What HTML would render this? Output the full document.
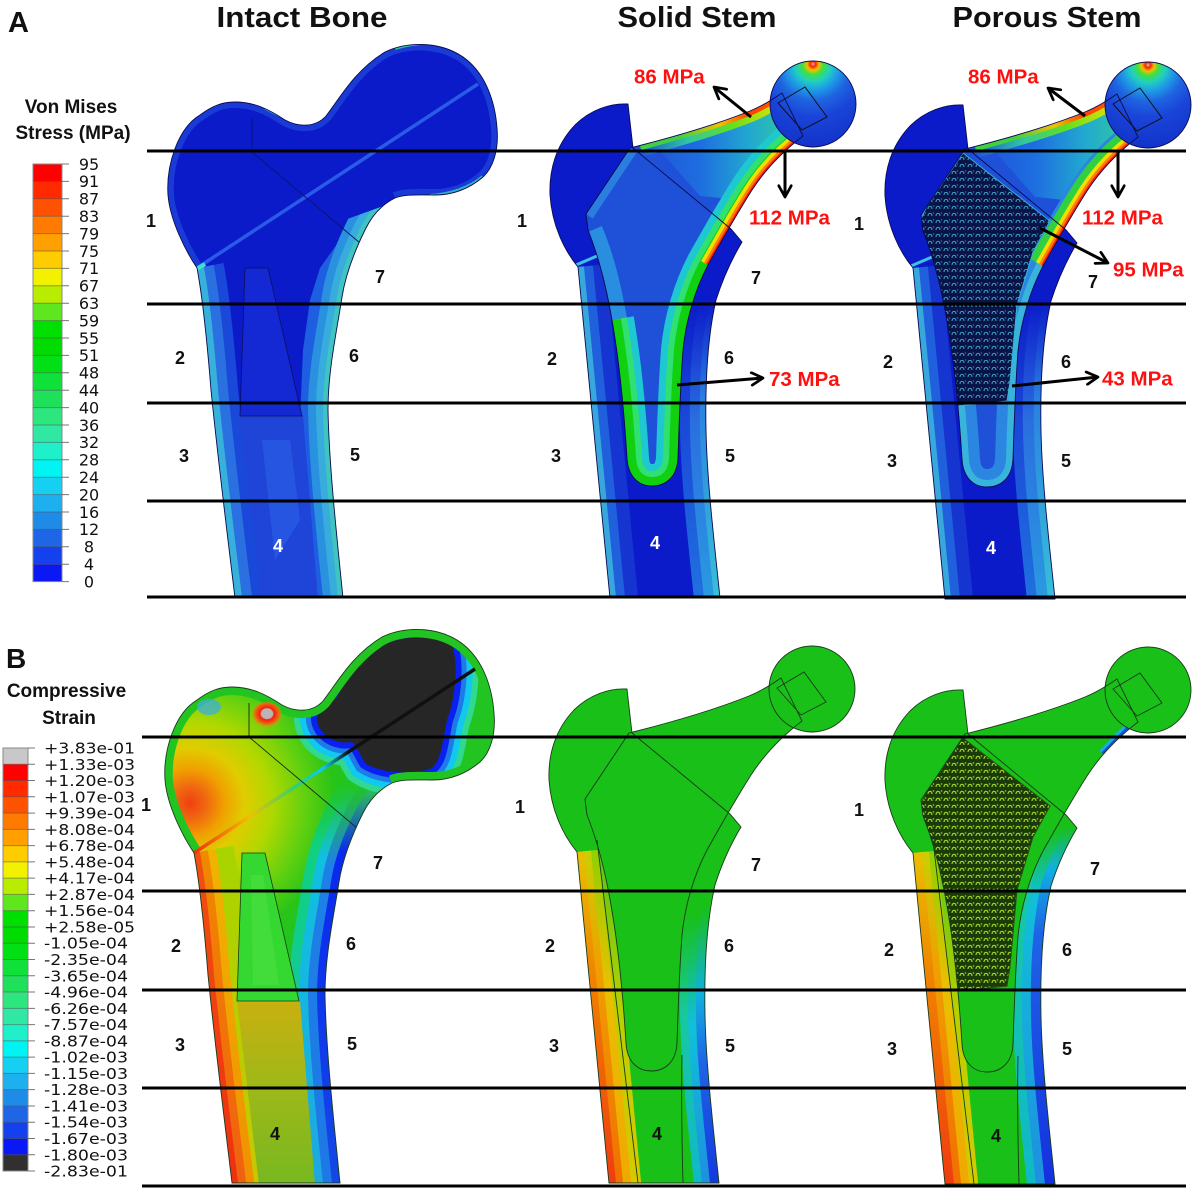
<!DOCTYPE html>
<html><head><meta charset="utf-8">
<style>
html,body{margin:0;padding:0;background:#fff;width:1200px;height:1193px;overflow:hidden}
svg{display:block}
.t{font-family:"Liberation Sans",sans-serif;font-weight:bold;fill:#111}
.n{font-family:"Liberation Sans",sans-serif;font-weight:bold;font-size:18px;text-anchor:middle;fill:#111}
.w{fill:#fff}
.r{font-family:"Liberation Sans",sans-serif;font-weight:bold;font-size:20.5px;fill:#ff1010}
.la{font-family:"DejaVu Sans",sans-serif;font-size:16px;fill:#111;text-anchor:middle}
.lb{font-family:"DejaVu Sans",sans-serif;font-size:15px;fill:#111}
</style></head><body>
<svg width="1200" height="1193" viewBox="0 0 1200 1193">
<defs>
<path id="iO" d="M197,268 C185,250 170,220 168,195 C166,165 178,128 200,115 C212,106 222,102 235,102 C255,102 270,110 285,120 C298,127 315,128 326,116 C340,98 355,70 385,52 C410,40 445,42 467,60 C485,75 495,100 497,128 C499,150 493,168 483,177 C470,188 455,195 435,195 C418,195 405,194 395,198 C383,204 373,214 366,228 C356,248 346,272 342,297 C337,330 328,370 328,410 C329,460 335,520 343,598 L235,598 C228,540 218,460 211,390 C207,340 203,300 197,268 Z"/>
<path id="iTop" d="M197,268 C185,250 170,220 168,195 C166,165 178,128 200,115 C212,106 222,102 235,102 C255,102 270,110 285,120 C298,127 315,128 326,116 C340,98 355,70 385,52 C410,40 445,42 467,60 C485,75 495,100 497,128 C499,150 493,168 483,177 C470,188 455,195 435,195 C418,195 405,194 395,198"/>
<path id="iL" d="M197,268 C203,300 207,340 211,390 C218,460 228,540 235,598 L237,620"/>
<path id="iR" d="M395,198 C383,204 373,214 366,228 C356,248 346,272 342,297 C337,330 328,370 328,410 C329,460 335,520 343,598 L345,620"/>
<path id="blob" d="M340,112 C352,88 372,62 400,55 C425,49 445,52 455,60 C462,80 458,115 450,135 C445,160 444,178 433,184 C413,190 383,188 368,178 C363,170 361,163 355,157 C338,160 322,150 320,135 C319,125 330,118 340,112 Z"/>
<path id="sB" d="M628,104 C610,103 590,110 575,125 C556,145 549,170 550,195 C552,225 564,250 578,267 C586,340 597,470 610,598 L720,598 C714,540 707,480 706,430 C705,380 708,335 716,300 C724,275 733,257 742,242 L731,229 L633,148 Z"/>
<path id="sS" d="M630,148 C670,138 715,125 750,111 C762,106 772,100 782,93 L803,136 C782,152 765,170 752,190 C738,212 722,240 708,265 C695,290 686,320 683,350 C680,390 679,430 678,458 C677,478 665,486 652,486 C638,486 628,476 627,458 C624,410 619,360 612,320 C606,285 598,255 588,230 L586,214 Z"/>
<path id="sL" d="M578,267 C586,340 597,470 610,598 L612,620"/>
<path id="sR" d="M742,242 C733,257 724,275 716,300 C708,335 705,380 706,430 C707,480 714,540 720,598 L722,620"/>
<path id="stE" d="M612,320 C619,360 624,410 627,458 C628,476 638,486 652,486 C665,486 677,478 678,458 C679,430 680,390 683,350 C686,320 695,290 708,265 C722,240 738,212 752,190 C765,170 782,152 803,136"/>
<path id="nkB" d="M708,265 C722,240 738,212 752,190 C765,170 782,152 803,136"/>
<path id="nkT" d="M640,146 C675,136 715,125 750,111 C762,106 772,100 784,92"/>
<path id="lat" d="M628,152 L715,220 L698,251 L682,304 L675,381 L672,400 L622,405 L605,304 L585,220 L592,205 Z"/>
<path id="trn" d="M778,103 L805,87 L827,117 L802,130 Z"/>
<clipPath id="ciO"><use href="#iO"/></clipPath>
<clipPath id="cNk"><path d="M280,620 L280,245 L350,218 L395,202 L440,199 L485,180 L520,180 L520,620 Z"/></clipPath>
<clipPath id="csB"><use href="#sB"/></clipPath>
<clipPath id="csS"><use href="#sS"/></clipPath>
<marker id="ah" viewBox="0 0 12 12" refX="10.5" refY="6" markerWidth="15" markerHeight="15" markerUnits="userSpaceOnUse" orient="auto"><path d="M1.5,1 L10.5,6 L1.5,11" fill="none" stroke="#000" stroke-width="2.2" stroke-linecap="round" stroke-linejoin="round"/></marker>
<pattern id="latA" width="8" height="7" patternUnits="userSpaceOnUse"><rect width="8" height="7" fill="#0a1446"/><path d="M1,5 C1,1.5 5,1.5 5,5" fill="none" stroke="#36a8cc" stroke-width="1.1"/><circle cx="6.5" cy="2" r="0.8" fill="#2a6ad0"/></pattern>
<pattern id="latB" width="8" height="7" patternUnits="userSpaceOnUse"><rect width="8" height="7" fill="#1a3a0a"/><path d="M1,5 C1,1.5 5,1.5 5,5" fill="none" stroke="#a6d820" stroke-width="1.2"/><circle cx="6.5" cy="2" r="0.9" fill="#70c020"/></pattern>
<linearGradient id="gNeck" gradientUnits="userSpaceOnUse" x1="640" y1="0" x2="790" y2="0"><stop offset="0" stop-color="#1e50d8"/><stop offset=".4" stop-color="#1e6ee0"/><stop offset=".73" stop-color="#22a8d0"/><stop offset="1" stop-color="#30c8a0"/></linearGradient>
<linearGradient id="gNT1" gradientUnits="userSpaceOnUse" x1="640" y1="0" x2="780" y2="0"><stop offset="0" stop-color="#1e50d8"/><stop offset=".35" stop-color="#30c8a0"/><stop offset=".65" stop-color="#60e020"/><stop offset="1" stop-color="#e8e000"/></linearGradient>
<linearGradient id="gNT2" gradientUnits="userSpaceOnUse" x1="680" y1="0" x2="780" y2="0"><stop offset="0" stop-color="#40d040"/><stop offset=".4" stop-color="#f0c000"/><stop offset=".7" stop-color="#ff4000"/><stop offset="1" stop-color="#ff6000"/></linearGradient>
<radialGradient id="hdA" gradientUnits="userSpaceOnUse" cx="813" cy="64" r="88"><stop offset="0" stop-color="#c8c8c8"/><stop offset=".03" stop-color="#ff2000"/><stop offset=".07" stop-color="#f0c000"/><stop offset=".12" stop-color="#40e040"/><stop offset=".2" stop-color="#20d0c0"/><stop offset=".3" stop-color="#1e9ae6"/><stop offset=".42" stop-color="#1e64e0"/><stop offset=".6" stop-color="#1a44d8"/><stop offset="1" stop-color="#1030c8"/></radialGradient>
<linearGradient id="gRA1" gradientUnits="userSpaceOnUse" x1="0" y1="300" x2="0" y2="598"><stop offset="0" stop-color="#0b1bc9"/><stop offset=".4" stop-color="#1a48d8"/><stop offset="1" stop-color="#2070e0"/></linearGradient>
<linearGradient id="gRA2" gradientUnits="userSpaceOnUse" x1="0" y1="300" x2="0" y2="598"><stop offset="0" stop-color="#0b1bc9"/><stop offset=".4" stop-color="#2a6ee0"/><stop offset="1" stop-color="#2a9ae0"/></linearGradient>
<linearGradient id="gRA3" gradientUnits="userSpaceOnUse" x1="0" y1="300" x2="0" y2="598"><stop offset="0" stop-color="#0b1bc9"/><stop offset=".33" stop-color="#2a80e0"/><stop offset="1" stop-color="#38c0d8"/></linearGradient>
<radialGradient id="rgT" gradientUnits="userSpaceOnUse" cx="193" cy="218" r="170"><stop offset="0" stop-color="#f04010"/><stop offset=".1" stop-color="#f06a10"/><stop offset=".2" stop-color="#f0a000"/><stop offset=".32" stop-color="#e0cc00"/><stop offset=".48" stop-color="#b0d800"/><stop offset=".68" stop-color="#60d010"/><stop offset=".85" stop-color="#28c418"/><stop offset="1" stop-color="#22c422"/></radialGradient>
<linearGradient id="gCan" gradientUnits="userSpaceOnUse" x1="0" y1="416" x2="0" y2="598"><stop offset="0" stop-color="#c8b010"/><stop offset=".45" stop-color="#a0b818"/><stop offset="1" stop-color="#78b820"/></linearGradient>
<linearGradient id="gIL1" gradientUnits="userSpaceOnUse" x1="0" y1="268" x2="0" y2="598"><stop offset="0" stop-color="#a8d400"/><stop offset="1" stop-color="#c8c800"/></linearGradient>
<linearGradient id="gIL2" gradientUnits="userSpaceOnUse" x1="0" y1="268" x2="0" y2="598"><stop offset="0" stop-color="#f0b400"/><stop offset="1" stop-color="#f09000"/></linearGradient>
<linearGradient id="gIL3" gradientUnits="userSpaceOnUse" x1="0" y1="268" x2="0" y2="598"><stop offset="0" stop-color="#f08800"/><stop offset="1" stop-color="#f06010"/></linearGradient>
<linearGradient id="gIL4" gradientUnits="userSpaceOnUse" x1="0" y1="268" x2="0" y2="598"><stop offset="0" stop-color="#f05010"/><stop offset="1" stop-color="#f03010"/></linearGradient>
<linearGradient id="gIR1" gradientUnits="userSpaceOnUse" x1="0" y1="200" x2="0" y2="598"><stop offset="0" stop-color="#22c422"/><stop offset=".15" stop-color="#10d080"/><stop offset="1" stop-color="#18c0b0"/></linearGradient>
<linearGradient id="gIR2" gradientUnits="userSpaceOnUse" x1="0" y1="200" x2="0" y2="598"><stop offset="0" stop-color="#22c422"/><stop offset=".18" stop-color="#10c0e0"/><stop offset="1" stop-color="#1ea8e0"/></linearGradient>
<linearGradient id="gIR3" gradientUnits="userSpaceOnUse" x1="0" y1="200" x2="0" y2="598"><stop offset="0" stop-color="#22c422"/><stop offset=".2" stop-color="#1e80e6"/><stop offset="1" stop-color="#1e78e6"/></linearGradient>
<linearGradient id="gIR4" gradientUnits="userSpaceOnUse" x1="0" y1="200" x2="0" y2="598"><stop offset="0" stop-color="#30c850"/><stop offset=".17" stop-color="#0a28f0"/><stop offset="1" stop-color="#1448e6"/></linearGradient>
<linearGradient id="gDiag" gradientUnits="userSpaceOnUse" x1="197" y1="0" x2="478" y2="0"><stop offset="0" stop-color="#f03010"/><stop offset=".2" stop-color="#f0c000"/><stop offset=".36" stop-color="#30d070"/><stop offset=".46" stop-color="#10c8f0"/><stop offset=".55" stop-color="#101010"/><stop offset="1" stop-color="#101010"/></linearGradient>
<linearGradient id="gSL1" gradientUnits="userSpaceOnUse" x1="0" y1="267" x2="0" y2="598"><stop offset="0" stop-color="#58c818"/><stop offset=".49" stop-color="#b8d000"/><stop offset="1" stop-color="#d8c800"/></linearGradient>
<linearGradient id="gSL2" gradientUnits="userSpaceOnUse" x1="0" y1="267" x2="0" y2="598"><stop offset="0" stop-color="#90d000"/><stop offset=".4" stop-color="#e8c000"/><stop offset="1" stop-color="#f0a800"/></linearGradient>
<linearGradient id="gSL3" gradientUnits="userSpaceOnUse" x1="0" y1="267" x2="0" y2="598"><stop offset="0" stop-color="#c8d000"/><stop offset=".34" stop-color="#f0a000"/><stop offset="1" stop-color="#f07000"/></linearGradient>
<linearGradient id="gSL4" gradientUnits="userSpaceOnUse" x1="0" y1="267" x2="0" y2="598"><stop offset="0" stop-color="#e8c000"/><stop offset=".4" stop-color="#f08000"/><stop offset="1" stop-color="#f03c10"/></linearGradient>
<linearGradient id="gSR1" gradientUnits="userSpaceOnUse" x1="0" y1="300" x2="0" y2="598"><stop offset="0" stop-color="#18c018"/><stop offset=".1" stop-color="#18c018"/><stop offset=".44" stop-color="#18c8a0"/><stop offset="1" stop-color="#10b8c8"/></linearGradient>
<linearGradient id="gSR2" gradientUnits="userSpaceOnUse" x1="0" y1="300" x2="0" y2="598"><stop offset="0" stop-color="#18c018"/><stop offset=".1" stop-color="#18c018"/><stop offset=".47" stop-color="#10c0d8"/><stop offset="1" stop-color="#1e90e0"/></linearGradient>
<linearGradient id="gSR3" gradientUnits="userSpaceOnUse" x1="0" y1="300" x2="0" y2="598"><stop offset="0" stop-color="#18c018"/><stop offset=".07" stop-color="#18c018"/><stop offset=".37" stop-color="#10b0e0"/><stop offset=".6" stop-color="#1e64e6"/><stop offset="1" stop-color="#1438e0"/></linearGradient>
<linearGradient id="gPR1" gradientUnits="userSpaceOnUse" x1="0" y1="240" x2="0" y2="598"><stop offset="0" stop-color="#18c018"/><stop offset=".15" stop-color="#18c8a0"/><stop offset="1" stop-color="#10b8c8"/></linearGradient>
<linearGradient id="gPR2" gradientUnits="userSpaceOnUse" x1="0" y1="240" x2="0" y2="598"><stop offset="0" stop-color="#18c018"/><stop offset=".2" stop-color="#10c0d8"/><stop offset="1" stop-color="#1e90e0"/></linearGradient>
<linearGradient id="gPR3" gradientUnits="userSpaceOnUse" x1="0" y1="240" x2="0" y2="598"><stop offset="0" stop-color="#18c018"/><stop offset=".12" stop-color="#10b0e0"/><stop offset=".3" stop-color="#1e64e6"/><stop offset="1" stop-color="#1430e0"/></linearGradient>
<radialGradient id="spot" cx=".5" cy=".45" r=".55"><stop offset="0" stop-color="#b8b8b8"/><stop offset=".35" stop-color="#c0b0b0"/><stop offset=".42" stop-color="#f02010"/><stop offset=".7" stop-color="#f06010"/><stop offset="1" stop-color="#f0a000" stop-opacity="0"/></radialGradient>
</defs>

<rect width="1200" height="1193" fill="#fff"/>

<!-- ===== PANEL A : INTACT ===== -->
<g>
 <use href="#iO" fill="#0b1bc9"/>
 <g clip-path="url(#ciO)" fill="none">
  <use href="#iL" stroke="#1a48d8" stroke-width="54"/>
  <use href="#iL" stroke="#2a70e0" stroke-width="34"/>
  <use href="#iL" stroke="#38b0dc" stroke-width="14"/>
  <g clip-path="url(#cNk)">
   <path d="M398,200 L372,213 L342,237 L320,268 L310,300 L303,350 L300,420 L303,500 L308,600 L420,600 L420,200 Z" fill="#1e5ee0"/>
   <use href="#iR" stroke="#2a90e0" stroke-width="40"/>
   <use href="#iR" stroke="#38acdc" stroke-width="24"/>
   <use href="#iR" stroke="#40c4c0" stroke-width="10"/>
  </g>
  <path d="M240,416 L303,416 L318,600 L262,600 Z" fill="#1e44d8"/>
  <path d="M262,440 L290,440 L300,520 L275,560 Z" fill="#2a5ee6" opacity=".7"/>
  <path d="M245,268 L268,268 L302,416 L240,416 Z" fill="#1428d4" stroke="#0a1060" stroke-width="0.8"/>
  <use href="#iTop" stroke="#1a3ad6" stroke-width="12"/>
  <path d="M395,48 C420,40 455,40 478,55" stroke="#30c0a0" stroke-width="4"/>
  <path d="M265,108 C280,116 298,126 320,120" stroke="#28a0d0" stroke-width="3"/>
  <path d="M430,196 C450,195 470,188 483,177" stroke="#30b0c0" stroke-width="4"/>
  <line x1="197" y1="268" x2="478" y2="84" stroke="#2a5ae8" stroke-width="3.5"/>
  <line x1="195" y1="270" x2="205" y2="264" stroke="#40e0d0" stroke-width="4"/>
  <polyline points="252,118 252,152 360,243" stroke="#0a1470" stroke-width="0.9"/>
 </g>
 <use href="#iO" fill="none" stroke="#0a0a50" stroke-width="0.9"/>
</g>

<!-- ===== PANEL A : SOLID ===== -->
<g>
 <use href="#sB" fill="#0b1bc9"/>
 <g clip-path="url(#csB)" fill="none">
  <use href="#sL" stroke="#1634cf" stroke-width="56"/>
  <use href="#sL" stroke="#2060dc" stroke-width="30"/>
  <use href="#sL" stroke="#38a8dc" stroke-width="12"/>
  <use href="#sR" stroke="url(#gRA1)" stroke-width="52"/>
  <use href="#sR" stroke="url(#gRA2)" stroke-width="32"/>
  <use href="#sR" stroke="url(#gRA3)" stroke-width="12"/>
  <line x1="576" y1="265" x2="597" y2="256" stroke="#40c0e0" stroke-width="3"/>
 </g>
 <use href="#sS" fill="#1e50d8"/>
 <g clip-path="url(#csS)" fill="none">
  <path d="M640,128 L792,78 L812,140 L760,202 L700,196 Z" fill="url(#gNeck)"/>
  <path d="M586,214 L630,148" stroke="#2a7ee0" stroke-width="16"/>
  <path d="M588,232 C598,255 606,285 612,320" stroke="#2a8ee0" stroke-width="30"/>
  <use href="#stE" stroke="#1ec8d0" stroke-width="44"/>
  <use href="#stE" stroke="#30e070" stroke-width="30"/>
  <use href="#stE" stroke="#10d010" stroke-width="18"/>
  <use href="#nkB" stroke="#f0e000" stroke-width="16"/>
  <use href="#nkB" stroke="#ff8000" stroke-width="9"/>
  <use href="#nkB" stroke="#ff2000" stroke-width="4"/>
  <use href="#nkT" stroke="url(#gNT1)" stroke-width="22"/>
  <use href="#nkT" stroke="url(#gNT2)" stroke-width="9"/>
 </g>
 <circle cx="813" cy="104" r="43" fill="url(#hdA)"/>
 <circle cx="813" cy="104" r="43" fill="none" stroke="#0a0a50" stroke-width="0.9"/>
 <use href="#trn" fill="none" stroke="#111" stroke-width="1"/>
 <use href="#sB" fill="none" stroke="#0a0a50" stroke-width="0.9"/>
 <use href="#sS" fill="none" stroke="#0a0a50" stroke-width="0.9"/>
</g>

<!-- ===== PANEL A : POROUS ===== -->
<g transform="translate(335,1)">
 <use href="#sB" fill="#0b1bc9"/>
 <g clip-path="url(#csB)" fill="none">
  <use href="#sL" stroke="#1634cf" stroke-width="56"/>
  <use href="#sL" stroke="#2060dc" stroke-width="30"/>
  <use href="#sL" stroke="#38a8dc" stroke-width="12"/>
  <use href="#sR" stroke="url(#gRA1)" stroke-width="56"/>
  <use href="#sR" stroke="url(#gRA2)" stroke-width="36"/>
  <use href="#sR" stroke="url(#gRA3)" stroke-width="14"/>
  <line x1="576" y1="265" x2="597" y2="256" stroke="#40c0e0" stroke-width="3"/>
 </g>
 <use href="#sS" fill="#1e50d8"/>
 <g clip-path="url(#csS)" fill="none">
  <path d="M640,128 L792,78 L812,140 L760,202 L700,196 Z" fill="url(#gNeck)"/>
  <use href="#stE" stroke="#2a86e0" stroke-width="36"/>
  <use href="#stE" stroke="#38b4dc" stroke-width="14"/>
  <use href="#nkB" stroke="#30d040" stroke-width="30"/>
  <use href="#nkB" stroke="#f0e000" stroke-width="16"/>
  <use href="#nkB" stroke="#ff8000" stroke-width="9"/>
  <use href="#nkB" stroke="#ff2000" stroke-width="4"/>
  <use href="#nkT" stroke="url(#gNT1)" stroke-width="22"/>
  <use href="#nkT" stroke="url(#gNT2)" stroke-width="9"/>
  <use href="#lat" fill="url(#latA)" stroke="#3ab0d0" stroke-width="1"/>
 </g>
 <circle cx="813" cy="104" r="43" fill="url(#hdA)"/>
 <circle cx="813" cy="104" r="43" fill="none" stroke="#0a0a50" stroke-width="0.9"/>
 <use href="#trn" fill="none" stroke="#111" stroke-width="1"/>
 <use href="#sB" fill="none" stroke="#0a0a50" stroke-width="0.9"/>
 <use href="#sS" fill="none" stroke="#0a0a50" stroke-width="0.9"/>
</g>

<!-- ===== PANEL B : INTACT ===== -->
<g transform="translate(-3,585)">
 <use href="#iO" fill="#22c422"/>
 <g clip-path="url(#ciO)" fill="none">
  <circle cx="193" cy="218" r="170" fill="url(#rgT)"/>
  <use href="#iL" stroke="url(#gIL1)" stroke-width="80"/>
  <use href="#iL" stroke="url(#gIL2)" stroke-width="44"/>
  <use href="#iL" stroke="url(#gIL3)" stroke-width="28"/>
  <use href="#iL" stroke="url(#gIL4)" stroke-width="12"/>
  <use href="#iR" stroke="url(#gIR1)" stroke-width="72"/>
  <use href="#iR" stroke="url(#gIR2)" stroke-width="52"/>
  <use href="#iR" stroke="url(#gIR3)" stroke-width="34"/>
  <use href="#iR" stroke="url(#gIR4)" stroke-width="16"/>
  <path d="M240,416 L303,416 L318,600 L262,600 Z" fill="url(#gCan)"/>
  <path d="M245,268 L268,268 L302,416 L240,416 Z" fill="#34d830" stroke="#1a3a1a" stroke-width="0.8"/>
  <path d="M254,290 L266,290 L282,400 L256,400 Z" fill="#48e040" opacity=".7"/>
  <use href="#blob" stroke="#30d890" stroke-width="46"/>
  <use href="#blob" stroke="#10c8f0" stroke-width="34"/>
  <use href="#blob" stroke="#1e7ae6" stroke-width="22"/>
  <use href="#blob" stroke="#0a20f0" stroke-width="12"/>
  <use href="#blob" fill="#262626"/>
  <use href="#iTop" stroke="#22c422" stroke-width="16"/>
  <ellipse cx="212" cy="122" rx="12" ry="8" fill="#40b0d0" opacity=".8"/>
  <ellipse cx="270" cy="130" rx="15" ry="13" fill="url(#spot)"/>
  <line x1="197" y1="268" x2="478" y2="84" stroke="url(#gDiag)" stroke-width="3.5"/>
  <polyline points="252,118 252,152 360,243" stroke="#1a2a1a" stroke-width="0.9"/>
 </g>
 <use href="#iO" fill="none" stroke="#1a3a1a" stroke-width="0.9"/>
</g>

<!-- ===== PANEL B : SOLID ===== -->
<g transform="translate(-1,585)">
 <use href="#sB" fill="#18c018"/>
 <g clip-path="url(#csB)" fill="none">
  <use href="#sL" stroke="url(#gSL1)" stroke-width="64"/>
  <use href="#sL" stroke="url(#gSL2)" stroke-width="44"/>
  <use href="#sL" stroke="url(#gSL3)" stroke-width="28"/>
  <use href="#sL" stroke="url(#gSL4)" stroke-width="14"/>
  <use href="#sR" stroke="url(#gSR1)" stroke-width="50"/>
  <use href="#sR" stroke="url(#gSR2)" stroke-width="34"/>
  <use href="#sR" stroke="url(#gSR3)" stroke-width="18"/>
 </g>
 <use href="#sS" fill="#18c018"/>
 <circle cx="813" cy="104" r="43" fill="#18c018"/>
 <g fill="none" stroke="#1a3a1a" stroke-width="0.9">
  <circle cx="813" cy="104" r="43"/>
  <use href="#trn"/>
  <use href="#sB"/>
  <use href="#sS"/>
  <path d="M598,255 C610,360 625,480 639,598"/>
  <path d="M683,470 C682,520 683,560 684,598"/>
 </g>
</g>

<!-- ===== PANEL B : POROUS ===== -->
<g transform="translate(335,586)">
 <use href="#sB" fill="#18c018"/>
 <g clip-path="url(#csB)" fill="none">
  <use href="#sL" stroke="url(#gSL1)" stroke-width="66"/>
  <use href="#sL" stroke="url(#gSL2)" stroke-width="48"/>
  <use href="#sL" stroke="url(#gSL3)" stroke-width="32"/>
  <use href="#sL" stroke="url(#gSL4)" stroke-width="18"/>
  <use href="#sR" stroke="url(#gPR1)" stroke-width="56"/>
  <use href="#sR" stroke="url(#gPR2)" stroke-width="38"/>
  <use href="#sR" stroke="url(#gPR3)" stroke-width="20"/>
 </g>
 <use href="#sS" fill="#18c018"/>
 <g clip-path="url(#csS)" fill="none">
  <path d="M806,130 C790,145 780,155 768,168" stroke="#20a8e0" stroke-width="10"/>
  <path d="M806,130 C790,145 780,155 768,168" stroke="#1450e0" stroke-width="4"/>
  <use href="#lat" fill="url(#latB)" stroke="#2a4a10" stroke-width="1"/>
 </g>
 <circle cx="813" cy="104" r="43" fill="#18c018"/>
 <g fill="none" stroke="#1a3a1a" stroke-width="0.9">
  <circle cx="813" cy="104" r="43"/>
  <use href="#trn"/>
  <use href="#sB"/>
  <use href="#sS"/>
  <path d="M598,255 C610,360 625,480 639,598"/>
  <path d="M683,470 C682,520 683,560 684,598"/>
 </g>
</g>

<!-- ===== Horizontal lines ===== -->
<g stroke="#000" stroke-width="3">
 <line x1="147" y1="151" x2="1186" y2="151"/>
 <line x1="147" y1="304" x2="1186" y2="304"/>
 <line x1="147" y1="403" x2="1186" y2="403"/>
 <line x1="147" y1="501" x2="1186" y2="501"/>
 <line x1="147" y1="597" x2="1186" y2="597"/>
 <line x1="142" y1="737" x2="1186" y2="737"/>
 <line x1="142" y1="891" x2="1186" y2="891"/>
 <line x1="142" y1="990" x2="1186" y2="990"/>
 <line x1="142" y1="1088" x2="1186" y2="1088"/>
 <line x1="142" y1="1186" x2="1186" y2="1186"/>
</g>

<!-- ===== Arrows ===== -->
<g stroke="#000" stroke-width="3" fill="none" marker-end="url(#ah)">
 <line x1="751" y1="117" x2="714" y2="87"/>
 <line x1="785" y1="151" x2="785" y2="197"/>
 <line x1="677" y1="385" x2="763" y2="378"/>
 <line x1="1085" y1="116" x2="1048" y2="88"/>
 <line x1="1118" y1="151" x2="1118" y2="197"/>
 <line x1="1040" y1="228" x2="1108" y2="263"/>
 <line x1="1012" y1="386" x2="1098" y2="377"/>
</g>

<!-- ===== Titles ===== -->
<text class="t" x="8" y="32" font-size="29">A</text>
<text class="t" x="6" y="668" font-size="28">B</text>
<text class="t" x="302" y="27" font-size="29" text-anchor="middle" textLength="171" lengthAdjust="spacingAndGlyphs">Intact Bone</text>
<text class="t" x="697" y="27" font-size="29" text-anchor="middle" textLength="159" lengthAdjust="spacingAndGlyphs">Solid Stem</text>
<text class="t" x="1047" y="27" font-size="29" text-anchor="middle" textLength="189" lengthAdjust="spacingAndGlyphs">Porous Stem</text>

<!-- ===== Red labels ===== -->
<text class="r" x="634" y="83.5">86 MPa</text>
<text class="r" x="749" y="224.5">112 MPa</text>
<text class="r" x="769" y="386">73 MPa</text>
<text class="r" x="968" y="83.5">86 MPa</text>
<text class="r" x="1082" y="224.5">112 MPa</text>
<text class="r" x="1113" y="276.5">95 MPa</text>
<text class="r" x="1102" y="385.5">43 MPa</text>

<!-- ===== Region numbers ===== -->
<g class="n">
 <text class="n" x="151" y="227">1</text><text class="n" x="380" y="283">7</text><text class="n" x="180" y="364">2</text><text class="n" x="354" y="362">6</text><text class="n" x="184" y="462">3</text><text class="n" x="355" y="461">5</text><text class="n w" x="278" y="552">4</text>
 <text class="n" x="522" y="227">1</text><text class="n" x="756" y="284">7</text><text class="n" x="552" y="365">2</text><text class="n" x="729" y="364">6</text><text class="n" x="556" y="462">3</text><text class="n" x="730" y="462">5</text><text class="n w" x="655" y="549">4</text>
 <text class="n" x="859" y="230">1</text><text class="n" x="1093" y="288">7</text><text class="n" x="888" y="368">2</text><text class="n" x="1066" y="368">6</text><text class="n" x="892" y="467">3</text><text class="n" x="1066" y="467">5</text><text class="n w" x="991" y="554">4</text>
 <text class="n" x="146" y="811">1</text><text class="n" x="378" y="869">7</text><text class="n" x="176" y="952">2</text><text class="n" x="351" y="950">6</text><text class="n" x="180" y="1051">3</text><text class="n" x="352" y="1050">5</text><text class="n" x="275" y="1140">4</text>
 <text class="n" x="520" y="813">1</text><text class="n" x="756" y="871">7</text><text class="n" x="550" y="952">2</text><text class="n" x="729" y="952">6</text><text class="n" x="554" y="1052">3</text><text class="n" x="730" y="1052">5</text><text class="n" x="657" y="1140">4</text>
 <text class="n" x="859" y="816">1</text><text class="n" x="1095" y="875">7</text><text class="n" x="889" y="956">2</text><text class="n" x="1067" y="956">6</text><text class="n" x="892" y="1055">3</text><text class="n" x="1067" y="1055">5</text><text class="n" x="996" y="1142">4</text>
</g>

<!-- ===== Legend A ===== -->
<text class="t" x="71" y="113" font-size="19" text-anchor="middle">Von Mises</text>
<text class="t" x="73" y="139" font-size="19" text-anchor="middle">Stress (MPa)</text>
<g>
 <rect x="33" y="164" width="29" height="17.6" fill="#ff0000"/>
 <rect x="33" y="181.4" width="29" height="17.6" fill="#ff2a00"/>
 <rect x="33" y="198.8" width="29" height="17.6" fill="#ff5200"/>
 <rect x="33" y="216.2" width="29" height="17.6" fill="#ff7a00"/>
 <rect x="33" y="233.6" width="29" height="17.6" fill="#ffa000"/>
 <rect x="33" y="251" width="29" height="17.6" fill="#ffcc00"/>
 <rect x="33" y="268.4" width="29" height="17.6" fill="#f2f200"/>
 <rect x="33" y="285.8" width="29" height="17.6" fill="#b8ec00"/>
 <rect x="33" y="303.2" width="29" height="17.6" fill="#60e61e"/>
 <rect x="33" y="320.6" width="29" height="17.6" fill="#00e000"/>
 <rect x="33" y="338" width="29" height="17.6" fill="#00dc00"/>
 <rect x="33" y="355.4" width="29" height="17.6" fill="#00e014"/>
 <rect x="33" y="372.8" width="29" height="17.6" fill="#10e03a"/>
 <rect x="33" y="390.2" width="29" height="17.6" fill="#1ee05a"/>
 <rect x="33" y="407.6" width="29" height="17.6" fill="#2ee67e"/>
 <rect x="33" y="425" width="29" height="17.6" fill="#2ee8a4"/>
 <rect x="33" y="442.4" width="29" height="17.6" fill="#1ef0cc"/>
 <rect x="33" y="459.8" width="29" height="17.6" fill="#00f4f4"/>
 <rect x="33" y="477.2" width="29" height="17.6" fill="#16d0f4"/>
 <rect x="33" y="494.6" width="29" height="17.6" fill="#1eb0ee"/>
 <rect x="33" y="512" width="29" height="17.6" fill="#1e8ce6"/>
 <rect x="33" y="529.4" width="29" height="17.6" fill="#1e66e6"/>
 <rect x="33" y="546.8" width="29" height="17.6" fill="#1440ee"/>
 <rect x="33" y="564.2" width="29" height="17.4" fill="#0a18f4"/>
 <rect x="33" y="164" width="29" height="417.6" fill="none" stroke="#888" stroke-width="1"/>
</g>
<g stroke="#555" stroke-width="1">
 <path d="M33,181.4H62M33,198.8H62M33,216.2H62M33,233.6H62M33,251H62M33,268.4H62M33,285.8H62M33,303.2H62M33,320.6H62M33,338H62M33,355.4H62M33,372.8H62M33,390.2H62M33,407.6H62M33,425H62M33,442.4H62M33,459.8H62M33,477.2H62M33,494.6H62M33,512H62M33,529.4H62M33,546.8H62M33,564.2H62" opacity=".55"/>
 <path d="M62,164H69M62,181.4H69M62,198.8H69M62,216.2H69M62,233.6H69M62,251H69M62,268.4H69M62,285.8H69M62,303.2H69M62,320.6H69M62,338H69M62,355.4H69M62,372.8H69M62,390.2H69M62,407.6H69M62,425H69M62,442.4H69M62,459.8H69M62,477.2H69M62,494.6H69M62,512H69M62,529.4H69M62,546.8H69M62,564.2H69M62,581.6H69" stroke="#777"/>
</g>
<g class="la">
 <text class="la" x="89" y="169.8">95</text><text class="la" x="89" y="187.2">91</text><text class="la" x="89" y="204.6">87</text><text class="la" x="89" y="222">83</text><text class="la" x="89" y="239.4">79</text><text class="la" x="89" y="256.8">75</text><text class="la" x="89" y="274.2">71</text><text class="la" x="89" y="291.6">67</text><text class="la" x="89" y="309">63</text><text class="la" x="89" y="326.4">59</text><text class="la" x="89" y="343.8">55</text><text class="la" x="89" y="361.2">51</text><text class="la" x="89" y="378.6">48</text><text class="la" x="89" y="396">44</text><text class="la" x="89" y="413.4">40</text><text class="la" x="89" y="430.8">36</text><text class="la" x="89" y="448.2">32</text><text class="la" x="89" y="465.6">28</text><text class="la" x="89" y="483">24</text><text class="la" x="89" y="500.4">20</text><text class="la" x="89" y="517.8">16</text><text class="la" x="89" y="535.2">12</text><text class="la" x="89" y="552.6">8</text><text class="la" x="89" y="570">4</text><text class="la" x="89" y="587.4">0</text>
</g>

<!-- ===== Legend B ===== -->
<text class="t" x="66.5" y="697" font-size="19" text-anchor="middle">Compressive</text>
<text class="t" x="69" y="724" font-size="19" text-anchor="middle">Strain</text>
<g>
 <rect x="3" y="748" width="25" height="16.5" fill="#c8c8c8"/>
 <rect x="3" y="764.27" width="25" height="16.5" fill="#ff0000"/>
 <rect x="3" y="780.54" width="25" height="16.5" fill="#ff2a00"/>
 <rect x="3" y="796.81" width="25" height="16.5" fill="#ff5200"/>
 <rect x="3" y="813.08" width="25" height="16.5" fill="#ff7a00"/>
 <rect x="3" y="829.35" width="25" height="16.5" fill="#ffa000"/>
 <rect x="3" y="845.62" width="25" height="16.5" fill="#ffcc00"/>
 <rect x="3" y="861.89" width="25" height="16.5" fill="#f2f200"/>
 <rect x="3" y="878.16" width="25" height="16.5" fill="#b8ec00"/>
 <rect x="3" y="894.43" width="25" height="16.5" fill="#60e61e"/>
 <rect x="3" y="910.7" width="25" height="16.5" fill="#00e000"/>
 <rect x="3" y="926.97" width="25" height="16.5" fill="#00dc00"/>
 <rect x="3" y="943.24" width="25" height="16.5" fill="#00e014"/>
 <rect x="3" y="959.51" width="25" height="16.5" fill="#10e03a"/>
 <rect x="3" y="975.78" width="25" height="16.5" fill="#1ee05a"/>
 <rect x="3" y="992.05" width="25" height="16.5" fill="#2ee67e"/>
 <rect x="3" y="1008.32" width="25" height="16.5" fill="#2ee8a4"/>
 <rect x="3" y="1024.59" width="25" height="16.5" fill="#1ef0cc"/>
 <rect x="3" y="1040.86" width="25" height="16.5" fill="#00f4f4"/>
 <rect x="3" y="1057.13" width="25" height="16.5" fill="#16d0f4"/>
 <rect x="3" y="1073.4" width="25" height="16.5" fill="#1eb0ee"/>
 <rect x="3" y="1089.67" width="25" height="16.5" fill="#1e8ce6"/>
 <rect x="3" y="1105.94" width="25" height="16.5" fill="#1e66e6"/>
 <rect x="3" y="1122.21" width="25" height="16.5" fill="#1440ee"/>
 <rect x="3" y="1138.48" width="25" height="16.5" fill="#0a18f4"/>
 <rect x="3" y="1154.75" width="25" height="16.27" fill="#303030"/>
 <rect x="3" y="748" width="25" height="423" fill="none" stroke="#888" stroke-width="1"/>
</g>
<g stroke="#555" stroke-width="1">
 <path d="M3,764.27H28M3,780.54H28M3,796.81H28M3,813.08H28M3,829.35H28M3,845.62H28M3,861.89H28M3,878.16H28M3,894.43H28M3,910.7H28M3,926.97H28M3,943.24H28M3,959.51H28M3,975.78H28M3,992.05H28M3,1008.32H28M3,1024.59H28M3,1040.86H28M3,1057.13H28M3,1073.4H28M3,1089.67H28M3,1105.94H28M3,1122.21H28M3,1138.48H28M3,1154.75H28" opacity=".55"/>
 <path d="M28,748H35M28,764.27H35M28,780.54H35M28,796.81H35M28,813.08H35M28,829.35H35M28,845.62H35M28,861.89H35M28,878.16H35M28,894.43H35M28,910.7H35M28,926.97H35M28,943.24H35M28,959.51H35M28,975.78H35M28,992.05H35M28,1008.32H35M28,1024.59H35M28,1040.86H35M28,1057.13H35M28,1073.4H35M28,1089.67H35M28,1105.94H35M28,1122.21H35M28,1138.48H35M28,1154.75H35M28,1171H35" stroke="#777"/>
</g>
<g>
 <text class="lb" x="44" y="753.5" textLength="91" lengthAdjust="spacingAndGlyphs">+3.83e-01</text>
 <text class="lb" x="44" y="769.8" textLength="91" lengthAdjust="spacingAndGlyphs">+1.33e-03</text>
 <text class="lb" x="44" y="786" textLength="91" lengthAdjust="spacingAndGlyphs">+1.20e-03</text>
 <text class="lb" x="44" y="802.3" textLength="91" lengthAdjust="spacingAndGlyphs">+1.07e-03</text>
 <text class="lb" x="44" y="818.6" textLength="91" lengthAdjust="spacingAndGlyphs">+9.39e-04</text>
 <text class="lb" x="44" y="834.9" textLength="91" lengthAdjust="spacingAndGlyphs">+8.08e-04</text>
 <text class="lb" x="44" y="851.1" textLength="91" lengthAdjust="spacingAndGlyphs">+6.78e-04</text>
 <text class="lb" x="44" y="867.4" textLength="91" lengthAdjust="spacingAndGlyphs">+5.48e-04</text>
 <text class="lb" x="44" y="883.7" textLength="91" lengthAdjust="spacingAndGlyphs">+4.17e-04</text>
 <text class="lb" x="44" y="899.9" textLength="91" lengthAdjust="spacingAndGlyphs">+2.87e-04</text>
 <text class="lb" x="44" y="916.2" textLength="91" lengthAdjust="spacingAndGlyphs">+1.56e-04</text>
 <text class="lb" x="44" y="932.5" textLength="91" lengthAdjust="spacingAndGlyphs">+2.58e-05</text>
 <text class="lb" x="44" y="948.7" textLength="84" lengthAdjust="spacingAndGlyphs">-1.05e-04</text>
 <text class="lb" x="44" y="965" textLength="84" lengthAdjust="spacingAndGlyphs">-2.35e-04</text>
 <text class="lb" x="44" y="981.3" textLength="84" lengthAdjust="spacingAndGlyphs">-3.65e-04</text>
 <text class="lb" x="44" y="997.6" textLength="84" lengthAdjust="spacingAndGlyphs">-4.96e-04</text>
 <text class="lb" x="44" y="1013.8" textLength="84" lengthAdjust="spacingAndGlyphs">-6.26e-04</text>
 <text class="lb" x="44" y="1030.1" textLength="84" lengthAdjust="spacingAndGlyphs">-7.57e-04</text>
 <text class="lb" x="44" y="1046.4" textLength="84" lengthAdjust="spacingAndGlyphs">-8.87e-04</text>
 <text class="lb" x="44" y="1062.6" textLength="84" lengthAdjust="spacingAndGlyphs">-1.02e-03</text>
 <text class="lb" x="44" y="1078.9" textLength="84" lengthAdjust="spacingAndGlyphs">-1.15e-03</text>
 <text class="lb" x="44" y="1095.2" textLength="84" lengthAdjust="spacingAndGlyphs">-1.28e-03</text>
 <text class="lb" x="44" y="1111.4" textLength="84" lengthAdjust="spacingAndGlyphs">-1.41e-03</text>
 <text class="lb" x="44" y="1127.7" textLength="84" lengthAdjust="spacingAndGlyphs">-1.54e-03</text>
 <text class="lb" x="44" y="1144" textLength="84" lengthAdjust="spacingAndGlyphs">-1.67e-03</text>
 <text class="lb" x="44" y="1160.3" textLength="84" lengthAdjust="spacingAndGlyphs">-1.80e-03</text>
 <text class="lb" x="44" y="1176.5" textLength="84" lengthAdjust="spacingAndGlyphs">-2.83e-01</text>
</g>
</svg>
</body></html>
